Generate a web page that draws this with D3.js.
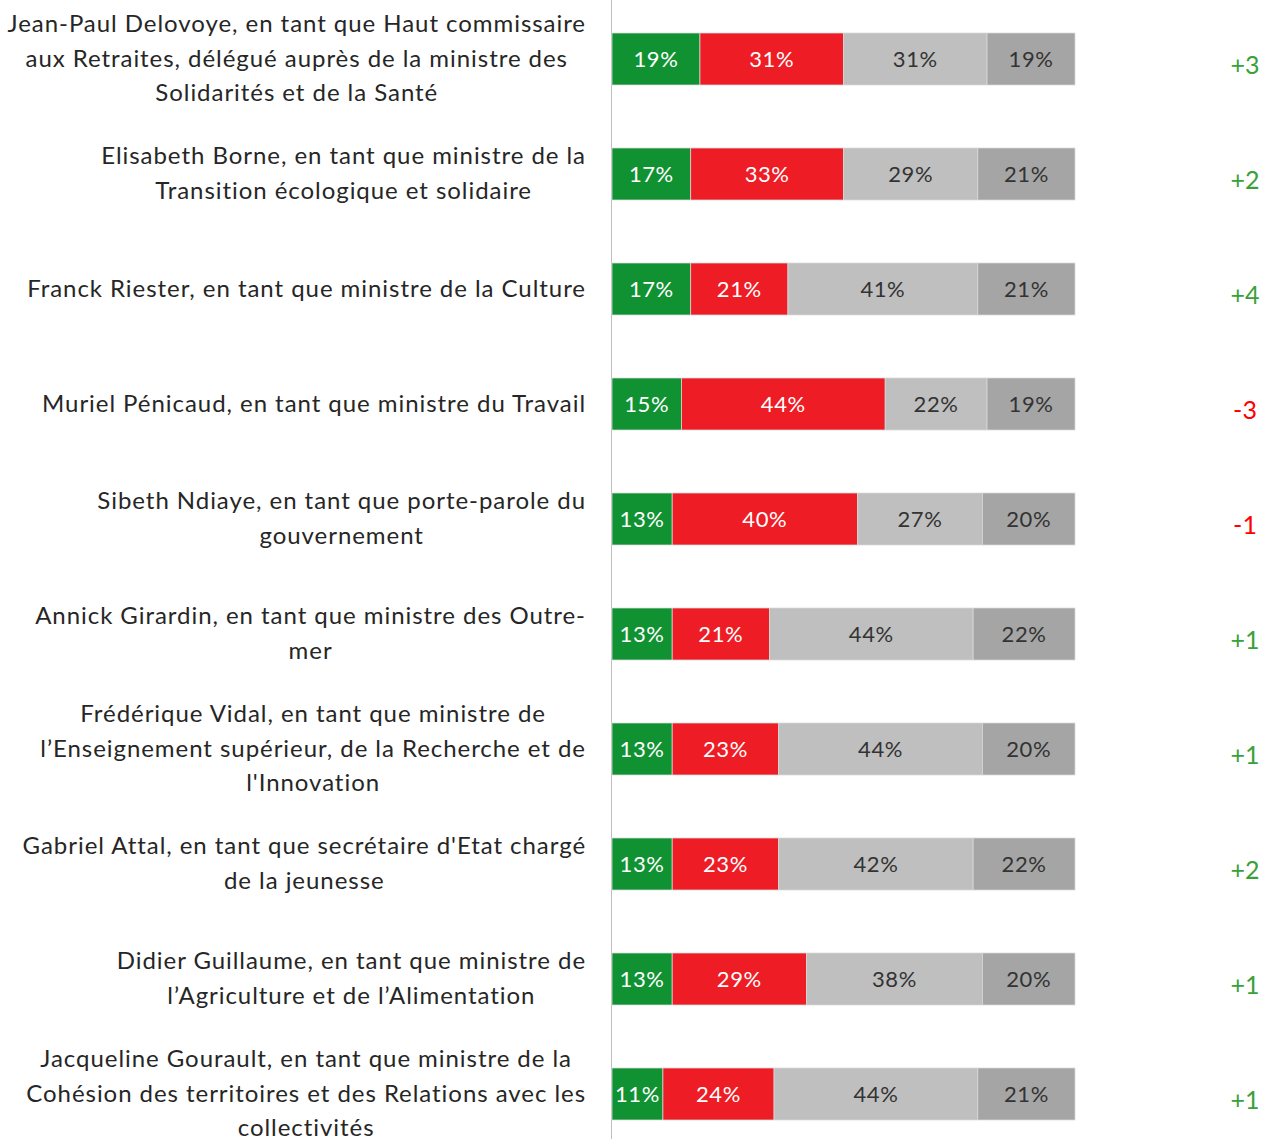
<!DOCTYPE html>
<html>
<head>
<meta charset="utf-8">
<script src="https://cdn.jsdelivr.net/npm/d3@7"></script>
<style>
  body { margin: 0; background: #fff; }
  svg { display: block; }
</style>
</head>
<body>
<div id="chart"></div>
<script>
// Personalities (label lines as shown in the chart).
const personalities = [
    ['Jean-Paul Delovoye, en tant que Haut commissaire', 'aux Retraites, délégué auprès de la ministre des', 'Solidarités et de la Santé'],
    ['Elisabeth Borne, en tant que ministre de la', 'Transition écologique et solidaire'],
    ['Franck Riester, en tant que ministre de la Culture'],
    ['Muriel Pénicaud, en tant que ministre du Travail'],
    ['Sibeth Ndiaye, en tant que porte-parole du', 'gouvernement'],
    ['Annick Girardin, en tant que ministre des Outre-', 'mer'],
    ['Frédérique Vidal, en tant que ministre de', 'l’Enseignement supérieur, de la Recherche et de', 'l\'Innovation'],
    ['Gabriel Attal, en tant que secrétaire d\'Etat chargé', 'de la jeunesse'],
    ['Didier Guillaume, en tant que ministre de', 'l’Agriculture et de l’Alimentation'],
    ['Jacqueline Gourault, en tant que ministre de la', 'Cohésion des territoires et des Relations avec les', 'collectivités']
];

// Series values (%).
const seriesKeys = ['positive', 'negative', 'neutral', 'unknown'];
const positive = [19, 17, 17, 15, 13, 13, 13, 13, 13, 11];
const negative = [31, 33, 21, 44, 40, 21, 23, 23, 29, 24];
const neutral  = [31, 29, 41, 22, 27, 44, 44, 42, 38, 44];
const unknown  = [19, 21, 21, 19, 20, 22, 20, 22, 20, 21];

// Change since previous wave.
const deltas = [3, 2, 4, -3, -1, 1, 1, 2, 1, 1];

const colors = {positive: '#109232', negative: '#ee1c25', neutral: '#bfbfbf', unknown: '#a5a5a5'};
const labelColors = {positive: '#ffffff', negative: '#ffffff', neutral: '#333333', unknown: '#333333'};

const width = 1271;
const height = 1139;
const font = 'Lato, "Open Sans", sans-serif';

const dataset = personalities.map((lines, i) => ({
    id: i,
    lines: lines,
    positive: positive[i],
    negative: negative[i],
    neutral: neutral[i],
    unknown: unknown[i],
    delta: deltas[i]
}));

const svg = d3.select('#chart')
    .append('svg')
        .attr('width', width)
        .attr('height', height)
        .attr('viewBox', `0 0 ${width} ${height}`);

// Scales: 100% stacked bars.
const x = d3.scaleLinear()
    .domain([0, 1])
    .range([612, 1075]);
const y = d3.scaleBand()
    .domain(dataset.map(d => d.id))
    .range([1.5, 1151.5])
    .paddingInner(0.548)
    .paddingOuter(0.274);

const stacked = d3.stack()
    .keys(seriesKeys)
    .offset(d3.stackOffsetExpand)(dataset);

// Vertical axis line.
svg.append('line')
    .attr('x1', 611.5)
    .attr('x2', 611.5)
    .attr('y1', 0)
    .attr('y2', height)
    .attr('stroke', '#bfbfbf')
    .attr('stroke-width', 1);

// Bars.
const layers = svg.selectAll('g.layer')
    .data(stacked)
    .enter()
    .append('g')
        .attr('class', 'layer')
        .attr('fill', d => colors[d.key]);

layers.selectAll('rect')
    .data(d => d)
    .enter()
    .append('rect')
        .attr('x', d => x(d[0]))
        .attr('y', d => y(d.data.id))
        .attr('width', d => x(d[1]) - x(d[0]))
        .attr('height', y.bandwidth())
        .attr('stroke', '#d9d9d9')
        .attr('stroke-width', 0.75);

// Value labels inside the bars.
stacked.forEach(layer => {
    svg.append('g')
        .selectAll('text')
        .data(layer)
        .enter()
        .append('text')
            .attr('x', d => (x(d[0]) + x(d[1])) / 2)
            .attr('y', d => y(d.data.id) + y.bandwidth() / 2)
            .attr('dy', '0.36em')
            .attr('text-anchor', 'middle')
            .style('font-family', font)
            .style('font-size', '22px')
            .style('letter-spacing', '0.6px')
            .attr('fill', labelColors[layer.key])
            .text(d => `${d.data[layer.key]}%`);
});

// Category labels: centred lines, block right-aligned against the axis.
const lineHeight = 34.3;
const labelGroups = svg.selectAll('g.label')
    .data(dataset)
    .enter()
    .append('g')
        .attr('class', 'label');

labelGroups.each(function(d) {
    const g = d3.select(this);
    const cy = y(d.id) + y.bandwidth() / 2 - 1;
    const texts = g.selectAll('text')
        .data(d.lines)
        .enter()
        .append('text')
            .attr('y', (l, j) => cy + (j - (d.lines.length - 1) / 2) * lineHeight)
            .attr('dy', '0.36em')
            .attr('text-anchor', 'middle')
            .style('font-family', font)
            .style('font-size', '24px')
            .style('letter-spacing', '0.95px')
            .attr('fill', '#262626')
            .text(l => l);
    let maxW = 0;
    texts.each(function() { maxW = Math.max(maxW, this.getComputedTextLength()); });
    texts.attr('x', 586 - maxW / 2);
});

// Deltas on the right.
svg.append('g')
    .selectAll('text')
    .data(dataset)
    .enter()
    .append('text')
        .attr('x', 1245)
        .attr('y', d => y(d.id) + y.bandwidth() / 2 + 6)
        .attr('dy', '0.36em')
        .attr('text-anchor', 'middle')
        .style('font-family', font)
        .style('font-size', '25px')
        .attr('fill', d => d.delta > 0 ? '#3aa03a' : '#ff0000')
        .text(d => d.delta > 0 ? `+${d.delta}` : `${d.delta}`);
</script>
</body>
</html>
